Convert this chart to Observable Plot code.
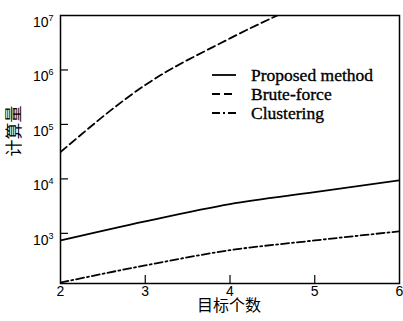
<!DOCTYPE html>
<html><head><meta charset="utf-8">
<script src="https://cdn.jsdelivr.net/npm/d3@7"></script>
<script src="https://cdn.jsdelivr.net/npm/@observablehq/plot@0.6"></script>
<style>body{margin:0;background:#fff;}</style>
</head><body><div id="chart"></div>
<script>
const targets = [2, 3, 4, 5, 6];
const proposed = [740, 1660, 3450, 5700, 9400];
const bruteForce = [31000, 530000, 3800000, 21000000, 110000000];
const clustering = [125, 258, 490, 740, 1090];
const seriesNames = ["Proposed method", "Brute-force", "Clustering"];
const yTickExponents = [3, 4, 5, 6, 7];
const xTicks = [2, 3, 4, 5, 6];
const xLabel = "目标个数";
const yLabel = "计算量";

const dashes = {"Proposed method": null, "Brute-force": "8,4", "Clustering": "8,3,2,3"};
const seriesValues = [proposed, bruteForce, clustering];
const rows = [];
seriesNames.forEach((s, i) => targets.forEach((t, j) => rows.push({series: s, x: t, y: seriesValues[i][j]})));
const yTicks = yTickExponents.map(e => Math.pow(10, e));
const innerYTicks = yTicks.filter(v => v < 1e7);
const innerXTicks = xTicks.filter(v => v > 2 && v < 6);

const W = 403, H = 321, mL = 60, mR = 4, mT = 15, mB = 38;
const cjk = "'Noto Sans CJK SC', sans-serif";

const lineMarks = seriesNames.map(s => Plot.line(rows.filter(r => r.series === s), {
  x: "x", y: "y", stroke: "black", strokeWidth: 1.8,
  strokeDasharray: dashes[s], curve: "monotone-x", clip: true
}));

const chart = Plot.plot({
  width: W, height: H,
  marginLeft: mL, marginRight: mR, marginTop: mT, marginBottom: mB,
  style: {fontFamily: "'Liberation Sans', Arial, sans-serif", fontSize: "14px", background: "white", color: "black"},
  x: {domain: [2, 6]},
  y: {type: "log", domain: [120, 1e7]},
  marks: [
    ...lineMarks,
    Plot.tickY(innerYTicks, {y: d => d, stroke: "black", strokeWidth: 1.2, insetRight: (W - mL - mR) - 8}),
    Plot.tickX(innerXTicks, {x: d => d, stroke: "black", strokeWidth: 1.2, insetTop: (H - mT - mB) - 8}),
    Plot.axisY({ticks: yTicks, tickSize: 0, tickPadding: 7, fontSize: 14, label: null,
      tickFormat: d => "10^" + Math.round(Math.log10(d))}),
    Plot.axisX({ticks: xTicks, tickSize: 0, tickPadding: 3, fontSize: 14, label: null, tickFormat: d => String(d)}),
    Plot.frame({stroke: "black", strokeWidth: 1.5}),
    Plot.text([yLabel], {frameAnchor: "left", dx: -46, dy: 7, rotate: -90, fontSize: 17, fontFamily: cjk, fill: "black"}),
    Plot.text([xLabel], {frameAnchor: "bottom", dx: -1, dy: 27, fontSize: 16, fontFamily: cjk, fill: "black"})
  ]
});

// superscript tick labels
d3.select(chart).selectAll('g[aria-label="y-axis tick label"] text').each(function() {
  const t = d3.select(this);
  const s = t.text();
  if (s.indexOf("^") < 0) return;
  const [base, exp] = s.split("^");
  t.text(null).attr("dy", "0.5em").attr("font-size", 14);
  t.append("tspan").attr("font-size", 14).text(base);
  t.append("tspan").attr("font-size", 9).attr("dy", -6).text(exp);
});
d3.select(chart).selectAll('g[aria-label="x-axis tick label"] text').attr("font-size", 14);

// legend
const svg = d3.select(chart);
const lg = svg.append("g").attr("font-family", "'Liberation Serif', 'Times New Roman', serif")
  .attr("font-size", 17.5).attr("text-anchor", "start");
seriesNames.forEach((s, i) => {
  const y = 75 + i * 19;
  lg.append("line").attr("x1", 212).attr("x2", 236).attr("y1", y).attr("y2", y)
    .attr("stroke", "black").attr("stroke-width", 1.8).attr("stroke-dasharray", dashes[s]);
  lg.append("text").attr("x", 251).attr("y", y).attr("dy", "0.35em").attr("fill", "black")
    .attr("stroke", "black").attr("stroke-width", 0.35)
    .attr("text-anchor", "start").text(s);
});

document.getElementById("chart").appendChild(chart);
</script></body></html>
